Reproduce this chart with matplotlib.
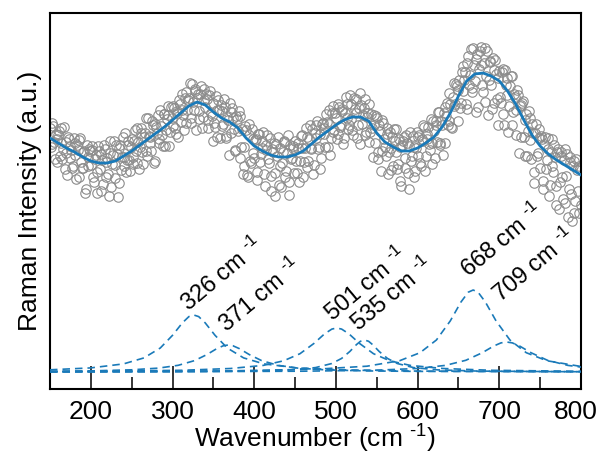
import numpy as np
import matplotlib
matplotlib.use("Agg")
import matplotlib.pyplot as plt
from matplotlib.transforms import ScaledTranslation

# measured spectrum, read at even wavenumbers 150..800
scan_x_even = np.arange(150, 801, 2)
scan_y_even = [
    261, 245, 263, 230, 250, 254, 233, 261, 240, 220, 247, 252, 231, 239, 223, 246, 210, 239, 249, 227, 221, 238, 200, 232, 240,
    224, 243, 207, 234, 217, 238, 198, 229, 244, 212, 231, 193, 236, 225, 248, 211, 235, 206, 244, 232, 223, 256, 229, 244, 218,
    250, 232, 259, 226, 247, 242, 261, 225, 256, 238, 271, 252, 238, 264, 228, 262, 274, 250, 263, 243, 275, 259, 274, 243, 282,
    263, 281, 255, 278, 289, 267, 279, 259, 297, 279, 291, 271, 305, 279, 298, 291, 270, 295, 261, 300, 282, 290, 269, 298, 273,
    286, 262, 279, 289, 251, 278, 265, 282, 251, 269, 286, 256, 271, 238, 273, 258, 273, 242, 215, 223, 259, 212, 265, 226, 250,
    231, 250, 209, 255, 235, 248, 215, 239, 254, 226, 198, 240, 246, 216, 233, 204, 241, 226, 248, 212, 236, 194, 244, 231, 241,
    248, 216, 241, 228, 254, 212, 241, 252, 228, 264, 240, 215, 256, 264, 240, 255, 231, 266, 255, 275, 242, 265, 251, 283, 259,
    271, 255, 282, 264, 280, 251, 292, 271, 264, 285, 259, 291, 276, 251, 281, 296, 265, 281, 254, 272, 285, 257, 261, 274, 246,
    271, 230, 258, 238, 266, 242, 255, 215, 257, 241, 223, 248, 260, 225, 242, 203, 248, 231, 254, 216, 243, 228, 253, 212, 241,
    233, 254, 223, 248, 262, 233, 255, 245, 270, 225, 258, 268, 247, 277, 244, 264, 276, 246, 286, 268, 285, 261, 306, 285, 303,
    299, 281, 317, 298, 317, 280, 333, 314, 301, 341, 308, 330, 282, 338, 324, 297, 341, 313, 274, 327, 304, 331, 286, 315, 264,
    318, 286, 320, 264, 304, 311, 283, 313, 264, 295, 279, 299, 236, 284, 286, 252, 269, 233, 278, 249, 265, 217, 256, 233, 260,
    221, 250, 200, 252, 229, 240, 204, 250, 217, 232, 184, 240, 207, 233, 190, 240, 213, 172, 232, 195, 223, 176, 230, 198, 223, 184,
]

# same spectrum at odd wavenumbers 151..799
scan_x_odd = np.arange(151, 800, 2)
scan_y_odd = [
    242, 266, 247, 255, 227, 258, 246, 230, 262, 236, 214, 250, 243, 221, 251, 234, 244, 212, 251, 221, 237, 196, 244, 223, 238,
    239, 212, 230, 196, 243, 220, 235, 205, 240, 227, 215, 248, 202, 234, 224, 244, 192, 241, 219, 252, 232, 217, 248, 229, 242,
    225, 248, 238, 261, 220, 256, 237, 252, 271, 233, 253, 246, 268, 226, 265, 256, 246, 279, 254, 275, 243, 270, 283, 257, 271,
    283, 261, 276, 252, 285, 295, 274, 291, 266, 289, 306, 266, 287, 300, 259, 295, 278, 303, 272, 289, 295, 261, 294, 276, 248,
    266, 293, 252, 279, 284, 263, 290, 253, 272, 234, 277, 281, 260, 239, 270, 278, 231, 260, 242, 263, 214, 254, 228, 260, 236,
    249, 217, 255, 227, 241, 257, 203, 244, 230, 251, 213, 237, 193, 245, 252, 223, 202, 237, 247, 218, 254, 207, 230, 243, 216,
    228, 246, 207, 253, 241, 227, 261, 222, 250, 241, 260, 224, 251, 268, 242, 220, 265, 261, 242, 267, 279, 234, 276, 257, 276,
    250, 285, 262, 278, 245, 276, 285, 260, 294, 270, 254, 280, 290, 264, 245, 284, 274, 290, 257, 276, 247, 275, 232, 264, 273,
    237, 264, 218, 269, 250, 233, 261, 237, 219, 252, 260, 237, 220, 250, 208, 244, 252, 221, 246, 200, 257, 233, 242, 218, 257,
    252, 226, 250, 264, 218, 250, 262, 239, 246, 268, 231, 264, 277, 246, 268, 234, 282, 273, 264, 296, 262, 292, 283, 305, 268,
    309, 286, 323, 309, 285, 326, 304, 340, 297, 324, 277, 335, 320, 342, 304, 326, 287, 338, 309, 328, 280, 319, 329, 290, 311,
    292, 317, 275, 319, 294, 257, 303, 313, 277, 292, 254, 294, 283, 252, 288, 233, 275, 258, 271, 230, 256, 206, 265, 236, 251,
    253, 208, 245, 220, 251, 193, 237, 223, 244, 203, 237, 180, 237, 212, 229, 186, 235, 200, 227, 168, 228, 188, 219, 176, 220,
]

# cumulative fit, every 10 cm-1
fit_x = np.arange(150, 801, 10)
fit_y = [
    251, 246, 241, 237, 232, 228, 226, 226, 228, 233,
    238, 244, 250, 256, 262, 269, 276, 283, 287, 284,
    277, 271, 267, 261, 251, 243, 238, 234, 232, 232,
    234, 238, 245, 252, 258, 264, 269, 272, 272, 268,
    256, 247, 242, 238, 238, 241, 246, 252, 262, 276,
    293, 308, 315, 316, 313, 308, 298, 285, 269, 254,
    243, 235, 229, 224, 219, 214,
]

# fitted peak components
peak_pos = [326, 371, 501, 535, 668, 709]

comp_326_x = [150, 200, 240, 265, 285, 300, 312, 320, 326, 332, 340, 352, 367, 387, 412, 452, 502, 600, 800]
comp_326_y = [19.2, 21.1, 25.1, 31.1, 41.0, 53.7, 66.1, 72.4, 74, 72.4, 66.1, 53.7, 41.0, 31.1, 25.1, 21.1, 19.2, 17.9, 17.3]

comp_371_x = [150, 200, 250, 283, 307, 327, 342, 354, 362, 368, 374, 382, 394, 409, 429, 453, 486, 536, 600, 800]
comp_371_y = [17.7, 18.1, 19.2, 20.9, 23.7, 28.4, 34.4, 40.3, 43.2, 44, 43.2, 40.3, 34.4, 28.4, 23.7, 20.9, 19.2, 18.1, 17.6, 17.2]

comp_501_x = [150, 201, 311, 371, 411, 436, 456, 473, 486, 495, 501, 507, 516, 529, 546, 566, 591, 631, 691, 800]
comp_501_y = [17.5, 17.7, 18.7, 20.5, 23.6, 28.2, 35.3, 45.5, 55.1, 59.9, 61, 59.9, 55.1, 45.5, 35.3, 28.2, 23.6, 20.5, 18.7, 17.7]

comp_535_x = [150, 285, 395, 445, 475, 495, 507, 517, 525, 530, 535, 540, 545, 553, 563, 575, 595, 625, 675, 785, 800]
comp_535_y = [17.1, 17.3, 17.9, 19.1, 21.4, 25.5, 30.6, 37.5, 44.3, 47.7, 49, 47.7, 44.3, 37.5, 30.6, 25.5, 21.4, 19.1, 17.9, 17.3, 17.3]

comp_668_x = [150, 368, 478, 538, 578, 603, 623, 640, 653, 662, 668, 674, 683, 696, 713, 733, 758, 798, 800]
comp_668_y = [17.4, 18.1, 19.9, 22.8, 28.3, 36.3, 49.0, 68.1, 86.9, 96.8, 99, 96.8, 86.9, 68.1, 49.0, 36.3, 28.3, 22.8, 22.7]

comp_709_x = [150, 309, 459, 549, 599, 634, 659, 679, 693, 702, 709, 716, 725, 739, 759, 784, 800]
comp_709_y = [17.2, 17.3, 17.8, 18.8, 20.5, 23.6, 28.7, 36.2, 42.9, 46.1, 47, 46.1, 42.9, 36.2, 28.7, 23.6, 21.9]

components = [
    (comp_326_x, comp_326_y), (comp_371_x, comp_371_y), (comp_501_x, comp_501_y),
    (comp_535_x, comp_535_y), (comp_668_x, comp_668_y), (comp_709_x, comp_709_y),
]

# where each peak label starts (data coords)
label_xy = [(320, 77), (366, 56), (496, 67), (528, 57), (663, 111), (702, 86)]

blue = "#1a7ab9"

plt.rcParams["font.family"] = ["Liberation Sans", "DejaVu Sans"]
plt.rcParams["mathtext.default"] = "regular"

fig = plt.figure(figsize=(6.01, 4.54), dpi=100)
ax = fig.add_axes([50 / 601, 1 - 389 / 454, 531 / 601, 376 / 454])

for sx, sy in [(scan_x_even, scan_y_even), (scan_x_odd, scan_y_odd)]:
    ax.plot(sx, sy, "o", ms=6.8, mfc="none", mec="#8c8c8c", mew=0.8, zorder=2)
ax.plot(fit_x, fit_y, color=blue, lw=2, zorder=3)
for cx, cy in components:
    ax.plot(cx, cy, "--", color=blue, lw=1.2, dashes=(4.5, 3), zorder=3)

for pos, (tx, ty) in zip(peak_pos, label_xy):
    ax.text(tx, ty, f"{pos} cm $^{{\u20101}}$", rotation=40, rotation_mode="anchor",
            ha="left", va="baseline", fontsize=17)

ax.set_xlim(150, 800)
ax.set_ylim(0, 376)
ax.set_xticks(range(200, 801, 100))
ax.set_xticks(range(250, 800, 100), minor=True)
ax.tick_params(axis="x", which="major", direction="in", length=16.5, width=1.1,
               labelsize=19, pad=8, top=False)
ax.tick_params(axis="x", which="minor", direction="in", length=8.5, width=1.1, top=False)
ax.tick_params(axis="y", which="both", left=False, labelleft=False)
for s in ax.spines.values():
    s.set_linewidth(1.5)

# keep the "800" label inside the canvas
last = ax.get_xticklabels()[-1]
last.set_transform(last.get_transform() + ScaledTranslation(-5 / 100, 0, fig.dpi_scale_trans))

ax.set_xlabel("Wavenumber (cm $^{\u20101}$)", fontsize=19, labelpad=-1)
ax.set_ylabel("Raman Intensity (a.u.)", fontsize=19, labelpad=6)

fig.savefig("out.png", dpi=100)
